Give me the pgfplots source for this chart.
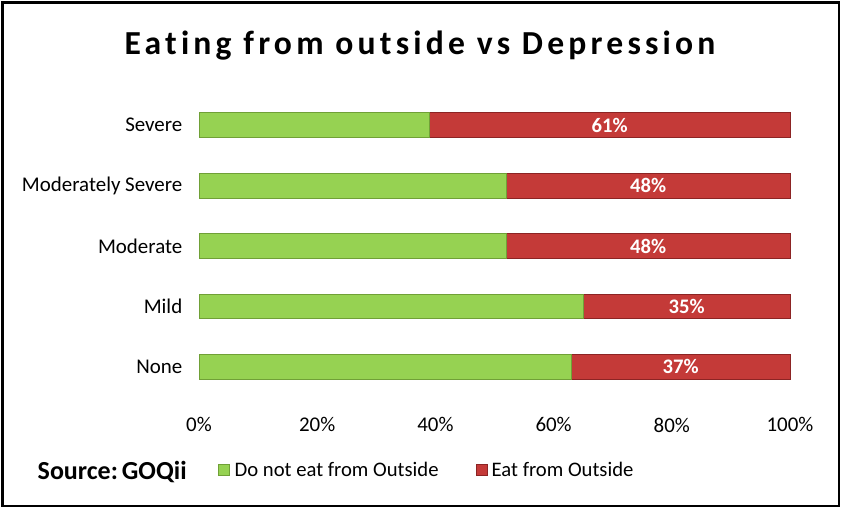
\documentclass[border=0pt]{standalone}
\usepackage{pgfplots}
\pgfplotsset{compat=1.18}
\usepackage{fontspec}
\setmainfont{Carlito}[Ligatures={NoCommon}]
\newfontfamily\titlefont[LetterSpace=12.5,Ligatures={NoCommon}]{Carlito}
\definecolor{gmid}{RGB}{150,210,82}
\definecolor{gbot}{RGB}{112,160,55}
\definecolor{rmid}{RGB}{196,58,56}
\definecolor{rbot}{RGB}{140,36,36}
\begin{document}
\begin{tikzpicture}
\begin{scope}[x=0.75pt,y=0.75pt]
\useasboundingbox (0,0) rectangle (843,509);
\draw[line width=1.6pt] (2.5,3) rectangle (839,506.5);
\node[font=\titlefont\fontsize{25.2}{30}\selectfont\bfseries] at (420,463) {Eating from outside vs Depression};
\node[font=\fontsize{19.5}{22}\selectfont\bfseries, anchor=west] at (33,37) {Source:\kern3pt GOQii};
\fill[gmid, draw=gbot] (218,34) rectangle (229,45);
\node[font=\fontsize{15.5}{18}\selectfont, anchor=west] at (230,39.5) {Do not eat from Outside};
\fill[rmid, draw=rbot] (476,34) rectangle (487,45);
\node[font=\fontsize{15.5}{18}\selectfont, anchor=west] at (487,39.5) {Eat from Outside};
\end{scope}
\begin{axis}[
  at={(149.25pt,84pt)}, anchor=south west,
  scale only axis, width=443.25pt, height=226.5pt,
  xbar stacked, bar width=18.5pt,
  xmin=0, xmax=100, ymin=-0.5, ymax=4.5,
  axis line style={draw=none},
  ytick={0,1,2,3,4},
  yticklabels={None,Mild,Moderate,Moderately Severe,Severe},
  xtick={0,20,40,60,80,100},
  xticklabel={\pgfmathprintnumber{\tick}\%},
  major tick length=0pt,
  tick label style={font=\fontsize{15.7}{18}\selectfont},
  xticklabel style={yshift=-12pt},
  yticklabel style={xshift=-9pt},
  /pgf/number format/assume math mode=true,
  clip=false,
]
\addplot[draw=gbot, line width=0.6pt, fill=gmid]
  coordinates {(63,0) (65,1) (52,2) (52,3) (39,4)};
\addplot[draw=rbot, line width=0.6pt, fill=rmid,
  point meta=explicit,
  nodes near coords={\pgfmathprintnumber{\pgfplotspointmeta}\%},
  nodes near coords style={font=\fontsize{15.5}{18}\selectfont\bfseries, text=white, anchor=center, /pgf/number format/assume math mode=true},
  nodes near coords align={center}]
  coordinates {(37,0) [37] (35,1) [35] (48,2) [48] (48,3) [48] (61,4) [61]};
\end{axis}
\end{tikzpicture}
\end{document}
